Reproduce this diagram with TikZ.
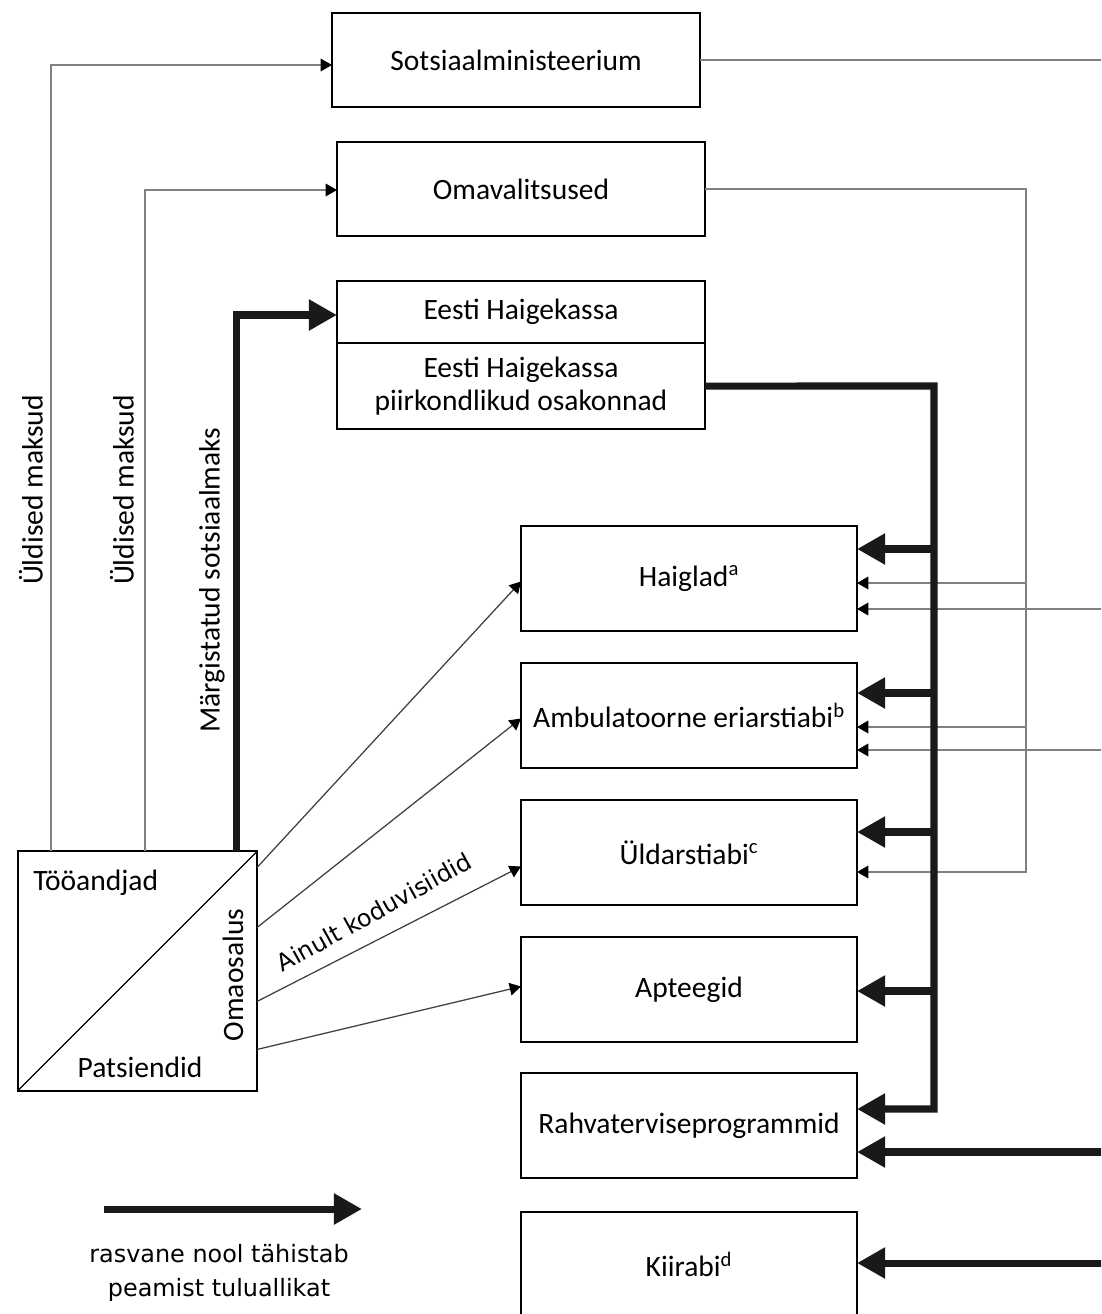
\documentclass[tikz,border=0pt]{standalone}
\usepackage{fontspec}
\setmainfont{Carlito}
\newfontfamily\labelfont{DejaVu Sans}
\usetikzlibrary{arrows.meta, calc}

\begin{document}
\begin{tikzpicture}[x=0.025cm, y=-0.025cm, inner sep=0pt,
	box/.style={draw, line width=1.4pt, outer sep=0pt, fill=white, font=\fontsize{21}{24}\selectfont, align=center},
	topbox/.style={box, minimum width=9.2cm, minimum height=2.35cm},
	carebox/.style={box, minimum width=8.4cm, minimum height=2.625cm},
	lbl/.style={font=\fontsize{21}{24}\selectfont},
	smalllbl/.style={font=\labelfont\fontsize{17}{24}\selectfont, align=center},
	thinline/.style={line width=0.9pt, draw=black!50},
	thinarrow/.style={thinline, -{Triangle[length=8pt, width=9pt, color=black]}},
	fatline/.style={line width=5pt, draw=black!90},
	fatarrow/.style={fatline, -{Triangle[length=20pt, width=21pt]}}]
			\useasboundingbox (0,0) rectangle (1101,1314);
			\clip (0,0) rectangle (1101,1314);
			
			\node[topbox] (sm) at (516,60) {Sotsiaalministeerium};
			\node[topbox] (ov) at (521,189) {Omavalitsused};
			\node[box, minimum width=9.2cm, minimum height=1.55cm] (hk) at (521,312) {Eesti Haigekassa};
			\node[box, minimum width=9.2cm, minimum height=2.15cm, anchor=north] (hkr) at (hk.south) {Eesti Haigekassa\\piirkondlikud osakonnad};
			
			\node[carebox] (hg) at (689,578.5) {Haiglad\textsuperscript{a}};
			\node[carebox] (ab) at (689,715.5) {Ambulatoorne eriarstiabi\textsuperscript{b}};
			\node[carebox] (ua) at (689,852.5) {Üldarstiabi\textsuperscript{c}};
			\node[carebox] (ap) at (689,989.5) {Apteegid};
			\node[carebox] (rp) at (689,1125.5) {Rahvaterviseprogrammid};
			\node[carebox] (kr) at (689,1264.5) {Kiirabi\textsuperscript{d}};
			
			\node[draw, line width=1.4pt, outer sep=0pt, minimum size=5.975cm] (src) at (137.5,971) {};
			\draw[line width=0.8pt] (src.south west) -- (src.north east);
			\node[lbl, anchor=west] (emp) at (33,883) {Tööandjad};
			\node[lbl] (pat) at (140,1067) {Patsiendid};
			\node[lbl, rotate=90] (oop) at (233,975) {Omaosalus};
			
			\node[lbl, rotate=90] (tax1) at (31,490) {Üldised maksud};
			\node[lbl, rotate=90] (tax2) at (122,490) {Üldised maksud};
			\node[lbl, rotate=90] (soc) at (212,580) {Märgistatud sotsiaalmaks};
			\node[smalllbl, rotate=29] (home) at (374,912) {Ainult koduvisiidid};
			
			\draw[thinarrow] ($(src.north west)+(33,0)$) |- ($(sm.west)+(0,5)$);
			\draw[thinarrow] ($(src.north west)+(127,0)$) |- ($(ov.west)+(0,1)$);
			\draw[fatarrow] ($(src.north west)+(219,0)$) |- ($(hk.west)+(0,3)$);
			
			\draw[thinarrow, draw=black!75] ($(src.north east)+(0,16)$) -- ($(hg.west)+(0,3)$);
			\draw[thinarrow, draw=black!75] ($(src.north east)+(0,76)$) -- ($(ab.west)+(0,3)$);
			\draw[thinarrow, draw=black!75] ($(src.north east)+(0,150)$) -- ($(ua.west)+(0,14)$);
			\draw[thinarrow, draw=black!75] ($(src.north east)+(0,198)$) -- ($(ap.west)+(0,-3)$);
			
			\coordinate (edge) at (1106,60);
			\draw[thinline] (sm.east) -- (edge);
			\foreach \n/\d in {hg/30.5, ab/34.5}{
				\coordinate (t) at ($(\n.east)+(0,\d)$);
				\draw[thinarrow] (t -| edge) -- (t);
			}
			
			\coordinate (ovr) at (1026,189);
			\draw[thinarrow] (ov.east) -- (ovr) |- ($(ua.east)+(0,19.5)$);
			\foreach \n/\d in {hg/4.5, ab/11.5}{
				\coordinate (t) at ($(\n.east)+(0,\d)$);
				\draw[thinarrow] (t -| ovr) -- (t);
			}
			
			\coordinate (bus) at (934,386);
			\draw[fatarrow] (hkr.east) -- (bus) |- ($(rp.east)+(0,-16.5)$);
			\foreach \n/\d in {hg/-29.5, ab/-22.5, ua/-20.5, ap/1.5}{
				\coordinate (t) at ($(\n.east)+(0,\d)$);
				\draw[fatarrow] (t -| bus) -- (t);
			}
			\foreach \n/\d in {rp/26.5, kr/-1.5}{
				\coordinate (t) at ($(\n.east)+(0,\d)$);
				\draw[fatarrow] (t -| edge) -- (t);
			}
			
			\coordinate (lg1) at (104,1209);
			\coordinate (lg2) at (362,1209);
			\draw[fatarrow] (lg1) -- (lg2);
			\node[smalllbl] (lgtext) at (219,1273) {rasvane nool tähistab\\peamist tuluallikat};
		\end{tikzpicture}
\end{document}
